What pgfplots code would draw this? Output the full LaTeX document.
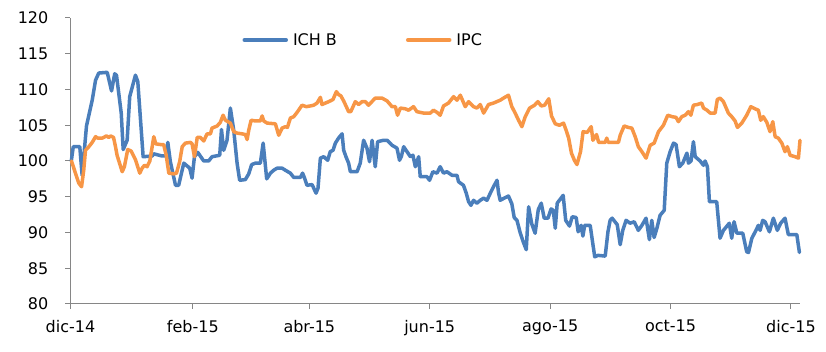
\documentclass[border=0pt]{standalone}
\usepackage{pgfplots}
\pgfplotsset{compat=1.18}
\usepackage{pgfplotstable}
\usepackage{fontspec}
\setmainfont{DejaVu Sans}
\definecolor{ichb}{HTML}{4A7EBB}
\definecolor{ipc}{HTML}{F79646}
\definecolor{axgray}{HTML}{868686}

\pgfplotstableread{
d v
0.4 100.0
1.4 102.0
4.7 102.0
5.9 98.0
8.1 104.9
11.0 108.5
12.7 111.3
14.3 112.3
18.6 112.4
20.8 109.8
22.4 112.2
23.3 112.0
25.7 106.7
26.7 101.6
28.7 102.9
30.0 109.0
32.9 112.0
34.1 111.1
36.8 100.6
41.4 100.7
42.2 101.0
46.4 100.7
48.1 100.7
49.3 102.6
50.6 99.9
53.2 96.6
54.8 96.6
57.4 99.7
60.4 99.0
61.6 97.6
62.8 100.6
64.5 101.2
67.5 100.0
70.0 100.0
71.7 100.6
75.6 100.8
76.5 104.4
77.6 101.5
79.3 102.9
81.0 107.4
82.7 104.3
84.4 99.7
85.7 97.3
88.6 97.4
90.3 98.2
91.8 99.5
93.7 99.7
96.2 99.7
97.6 102.5
99.4 97.5
101.3 98.3
102.9 98.7
104.7 99.0
107.2 99.0
108.9 98.7
111.4 98.3
113.1 97.7
116.5 97.7
117.6 98.3
118.6 97.6
119.8 96.6
122.4 96.7
124.4 95.5
125.4 96.2
126.6 100.4
128.3 100.6
130.3 100.1
131.6 101.3
133.0 101.5
134.2 102.5
135.8 103.2
137.6 103.8
138.4 101.5
139.7 100.5
140.9 99.7
141.8 98.5
145.2 98.5
146.8 99.7
148.5 102.9
150.2 101.8
151.5 99.9
152.8 102.9
154.4 99.2
155.6 102.7
158.6 102.9
160.4 102.9
162.9 102.2
165.4 101.8
166.7 100.1
167.6 100.6
168.8 102.0
170.5 101.3
172.2 100.6
173.5 100.8
174.7 99.2
176.4 100.6
177.2 97.8
180.6 97.8
181.9 97.3
183.6 98.5
185.7 98.3
187.3 99.2
189.0 98.3
190.7 98.5
193.3 98.0
195.8 98.0
196.6 97.1
199.1 96.6
200.5 95.5
201.7 94.3
202.9 93.8
204.2 94.5
205.9 94.1
207.6 94.5
209.3 94.8
211.0 94.5
212.7 95.5
214.3 96.4
216.1 97.3
216.9 95.5
217.7 94.5
219.7 94.8
221.9 95.1
223.6 94.0
224.8 92.1
226.2 91.7
227.8 90.0
229.5 88.6
230.9 87.6
232.1 93.6
233.7 91.2
235.4 89.9
237.0 93.2
238.5 94.1
240.0 92.0
241.9 92.0
243.5 93.3
244.6 93.1
245.6 90.6
246.6 94.1
249.6 95.2
250.9 91.7
252.8 90.9
254.2 92.2
256.2 92.1
257.2 90.1
258.7 91.0
259.6 89.5
260.5 91.0
263.3 91.0
264.7 88.3
265.6 86.6
267.3 86.8
270.9 86.7
272.3 90.1
273.4 91.7
274.4 92.0
277.0 91.1
278.5 88.3
279.8 90.3
281.5 91.7
283.5 91.3
285.6 91.5
287.7 90.3
289.5 91.0
291.6 92.0
293.3 89.0
294.5 91.7
295.7 89.3
297.1 90.6
298.7 92.4
300.8 93.1
302.1 99.7
303.8 101.3
305.5 102.5
306.8 102.3
308.5 99.2
310.2 99.7
312.3 101.1
313.1 99.7
314.4 100.0
315.6 102.7
316.5 100.6
319.0 100.0
320.7 99.4
321.5 100.0
322.7 99.2
323.7 94.3
327.4 94.3
329.1 89.2
330.8 90.3
333.8 91.3
335.0 89.2
336.2 91.5
337.6 89.9
340.6 89.9
342.6 87.3
343.5 87.2
345.2 89.2
347.3 90.3
348.5 91.0
349.4 90.3
350.7 91.7
351.9 91.5
354.1 90.1
356.1 92.0
358.1 90.3
359.8 91.3
362.0 92.0
363.7 89.7
368.0 89.7
369.3 87.2
}\ichb

\pgfplotstableread{
d v
0.5 100.0
2.5 98.3
4.2 96.9
5.6 96.4
6.7 98.7
7.6 101.5
9.3 102.0
11.0 102.6
12.7 103.4
13.8 103.2
16.1 103.2
18.2 103.5
19.4 103.3
20.3 103.5
21.8 103.3
22.8 102.0
23.6 100.8
26.2 98.5
27.3 99.2
29.0 101.6
30.7 101.4
32.9 100.2
35.1 98.3
36.3 99.0
37.5 99.4
38.8 99.2
40.2 100.0
42.2 103.4
43.2 102.4
45.6 102.3
47.2 102.3
48.5 100.8
49.8 98.3
52.3 98.2
53.7 98.3
55.3 99.9
56.6 102.0
58.2 102.5
60.8 102.6
61.6 102.4
62.8 100.6
64.2 103.3
65.8 103.3
67.5 102.8
69.2 103.8
70.9 103.8
71.7 104.6
74.3 104.9
75.9 105.4
77.3 106.4
78.5 105.7
81.0 105.3
82.7 104.1
84.4 103.9
86.9 103.8
88.6 103.7
89.5 103.0
90.3 104.3
91.5 105.7
93.7 105.6
96.2 105.6
97.1 106.3
97.9 105.6
99.6 105.3
103.8 105.2
105.5 103.6
107.2 104.6
108.9 104.8
109.9 104.7
111.4 106.0
113.1 106.2
114.8 106.8
117.3 107.8
119.5 107.6
121.5 107.7
123.2 107.8
124.9 108.1
126.6 108.9
127.4 107.9
130.0 108.2
131.6 108.4
133.0 108.6
134.7 109.7
135.8 109.3
137.0 109.1
138.4 108.4
140.9 106.9
142.0 106.9
144.3 108.3
146.0 107.9
147.7 108.3
149.4 108.3
151.0 107.8
154.4 108.8
157.8 108.8
160.4 108.4
162.9 107.6
164.6 107.6
165.7 106.4
167.1 107.4
169.6 107.3
171.3 107.1
173.8 107.6
175.5 106.9
178.9 106.7
182.3 106.7
183.9 107.1
185.7 106.8
187.3 106.4
189.0 107.7
191.5 108.1
194.1 109.0
195.8 108.5
197.5 109.2
200.0 107.6
201.7 108.3
204.2 107.6
205.9 107.4
207.6 107.9
209.3 106.7
211.8 107.9
214.3 108.1
217.7 108.5
219.4 108.8
221.9 109.2
223.6 107.6
225.3 106.7
227.0 105.7
228.7 104.8
230.4 106.2
232.6 107.4
235.1 107.8
236.8 108.3
238.5 107.7
240.2 107.8
242.3 108.7
243.7 106.3
245.6 105.2
247.7 105.0
249.8 105.3
251.1 104.3
252.4 103.2
253.8 101.1
255.3 100.1
256.6 99.5
258.4 101.3
259.7 104.1
261.8 104.0
263.8 104.8
264.7 102.9
266.5 103.7
267.6 102.6
270.9 102.6
271.7 103.2
272.4 102.6
277.6 102.6
278.5 103.6
280.5 104.9
282.5 104.7
284.4 104.6
286.1 103.4
287.7 102.0
289.5 101.3
291.6 100.4
293.7 102.2
295.7 102.5
297.9 104.1
300.4 105.0
302.6 106.4
304.8 106.2
306.8 106.1
308.0 105.5
309.7 106.2
311.4 106.4
313.1 106.9
314.3 106.4
315.6 107.8
317.6 107.9
319.8 108.1
320.7 107.4
322.5 107.1
324.1 106.7
326.6 106.7
327.7 108.6
329.1 108.8
330.8 108.3
333.3 106.7
335.0 106.2
336.7 105.6
337.9 104.7
340.1 105.3
342.6 106.4
344.7 107.6
346.8 107.3
348.5 107.1
349.7 105.7
351.0 106.2
352.8 105.4
354.4 104.1
355.8 105.5
357.0 103.4
358.6 103.2
360.4 102.5
362.0 101.3
363.2 102.0
364.6 100.8
367.1 100.6
368.8 100.4
369.6 102.9
}\ipc

\begin{document}
\begin{tikzpicture}
\begin{axis}[
  name=ax,
  scale only axis,
  width=729.5bp, height=286bp,
  xmin=0, xmax=369.6,
  ymin=80, ymax=120,
  ytick={80,85,...,120},
  xtick={0,62,121,182,243,304,365},
  xticklabels={dic-14,feb-15,abr-15,jun-15,ago-15,oct-15,dic-15},
  axis x line*=bottom,
  axis y line*=left,
  axis line style={axgray, line width=1bp, -},
  tick style={axgray, line width=1bp},
  tick align=outside,
  major tick length=5bp,
  /pgf/number format/assume math mode=true,
  tick label style={font=\fontsize{16bp}{19bp}\selectfont, text=black},
  yticklabel style={inner sep=0pt, anchor=east, xshift=-17bp},
  xticklabel style={inner sep=0pt, anchor=north, yshift=-11bp},
  clip=false,
  legend columns=2,
  legend style={draw=none, fill=none, at={(0.2355,0.923)}, anchor=west,
    font=\fontsize{16bp}{19bp}\selectfont, inner sep=0pt,
    /tikz/every even column/.append style={column sep=64bp},
    nodes={inner xsep=5bp}},
  legend image code/.code={\draw[#1, line width=3.5bp] (0bp,0bp) -- (42bp,0bp);},
]
\addplot[ichb, line width=3.5bp, line join=round, line cap=round] table[x=d, y=v] {\ichb};
\addlegendentry{ICH B}
\addplot[ipc, line width=3.5bp, line join=round, line cap=round] table[x=d, y=v] {\ipc};
\addlegendentry{IPC}
\end{axis}
\pgfresetboundingbox
\path[use as bounding box] ([xshift=-70.5bp, yshift=-48bp]ax.south west) rectangle ([xshift=26bp, yshift=18bp]ax.north east);
\end{tikzpicture}
\end{document}
